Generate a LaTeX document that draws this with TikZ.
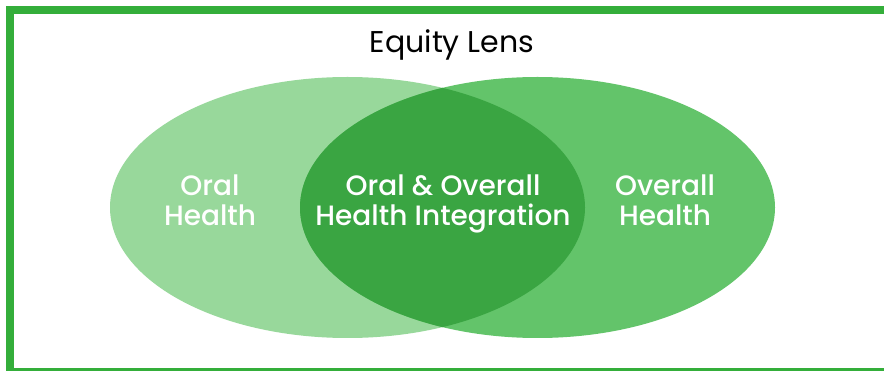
\documentclass[tikz,border=0pt]{standalone}
\usepackage{fontspec}
\setmainfont[BoldFont={Poppins Medium}]{Poppins}
\usetikzlibrary{shapes.geometric}

\definecolor{framegreen}{HTML}{34AE3A}
\definecolor{lightgreen}{HTML}{98D89B}
\definecolor{midgreen}{HTML}{63C46A}
\definecolor{darkgreen}{HTML}{3AA542}

\tikzstyle{circ}=[ellipse,minimum width=475pt,minimum height=261pt,inner sep=0pt]
\tikzstyle{label}=[text=white,font=\fontsize{28}{29.5}\selectfont\bfseries,align=center]

\begin{document}
\begin{tikzpicture}[x=1pt,y=-1pt]
			\useasboundingbox (0,0) rectangle (884,371);
			\clip (0,0) rectangle (884,371);
			\draw [framegreen,line width=8pt] (9.5,10) rectangle (900,372.5);

			\node [circ,fill=lightgreen] (oral)    at (347.5,207.5) {};
			\node [circ,fill=midgreen]   (overall) at (537.5,207.5) {};
			\begin{scope}
				\clip (347.5,207.5) ellipse [x radius=237.5,y radius=130.5];
				\fill [darkgreen] (537.5,207.5) ellipse [x radius=237.5,y radius=130.5];
			\end{scope}

			\node []      (lens)  at (452,45)  {\fontsize{30}{32}\selectfont Equity Lens};
			\node [label] (lo)    at (210,200.5) {Oral\\Health};
			\node [label] (lboth) at (443,204) {Oral \& Overall\\Health Integration};
			\node [label] (lv)    at (665,200.5) {Overall\\Health};
	\end{tikzpicture}
\end{document}
